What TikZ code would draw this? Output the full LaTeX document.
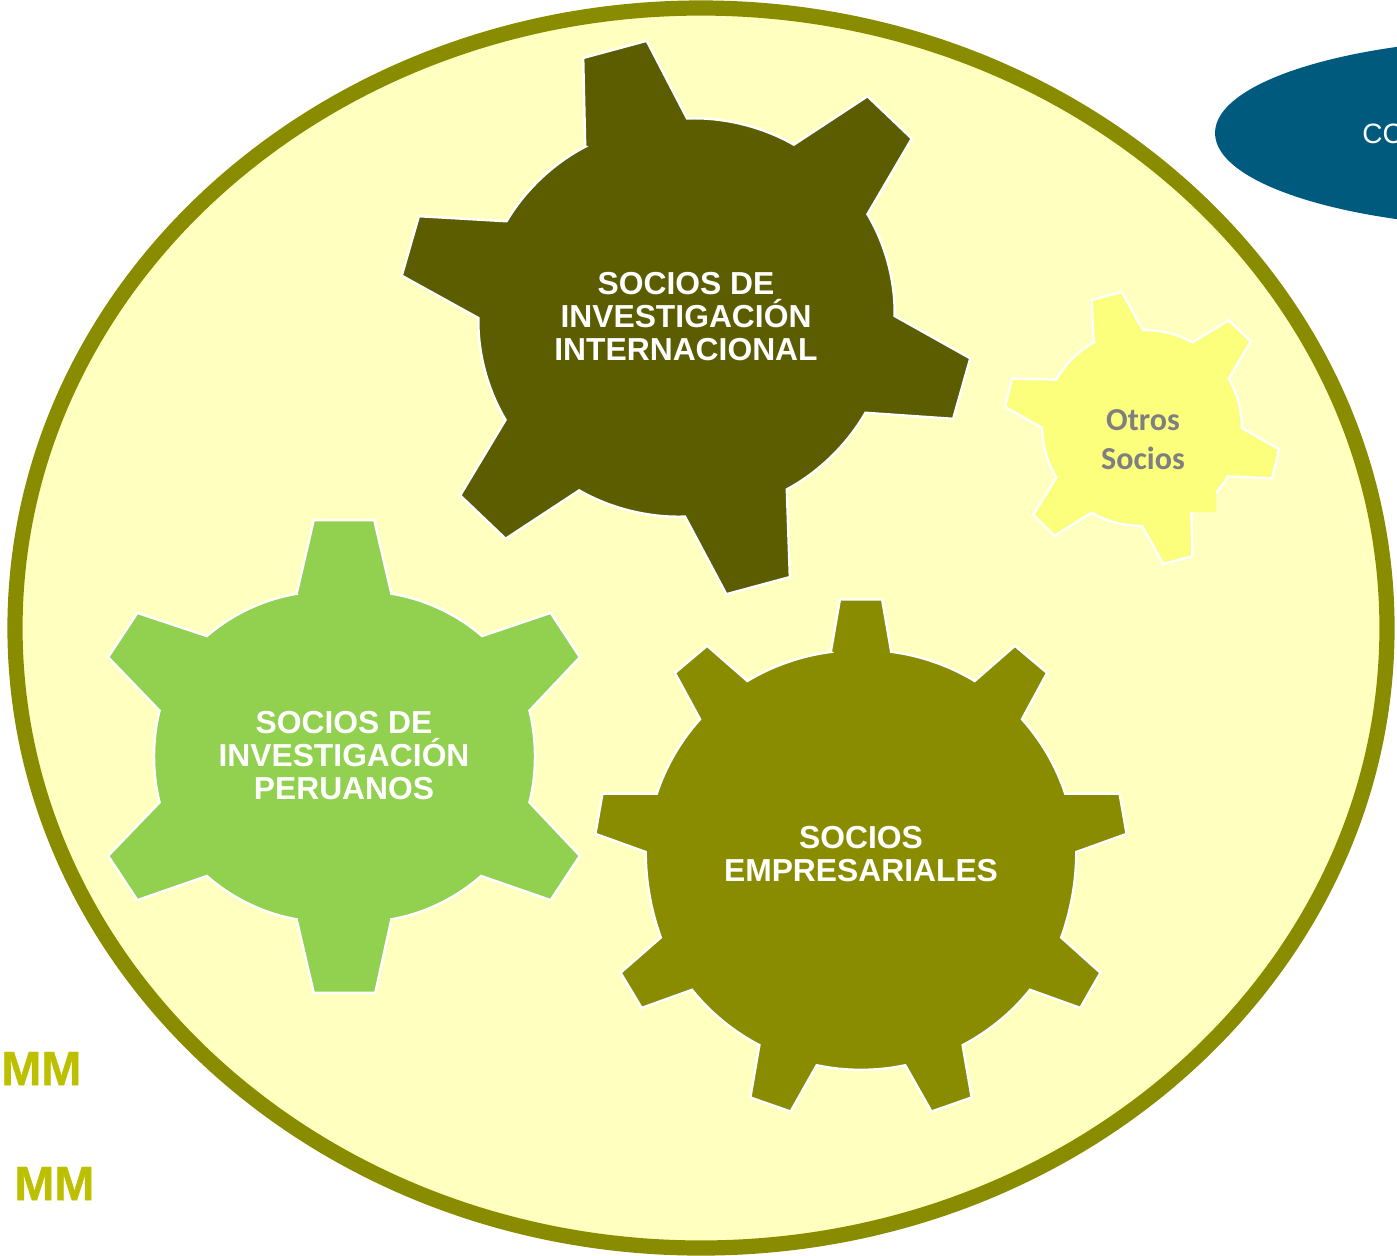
\documentclass[tikz,border=0pt]{standalone}
\usepackage{fontspec}
\setmainfont{Liberation Sans}
\newfontfamily\carlfont{Carlito}
\newfontfamily\mmfont[FakeBold=1]{Liberation Sans Bold}
\definecolor{ringcol}{HTML}{8A8C00}
\definecolor{bgcol}{HTML}{FFFFC0}
\definecolor{darkgear}{HTML}{5C5C00}
\definecolor{greengear}{HTML}{92D050}
\definecolor{yellowgear}{HTML}{FBFF7C}
\definecolor{bluecol}{HTML}{005A7D}
\definecolor{mmcol}{HTML}{BDC000}
\definecolor{othertxt}{HTML}{7F7F7F}
\tikzset{
  gear/.style={draw=white,line width=1.2pt,line join=miter,miter limit=4},
  arcb/.style={bend left=#1,looseness=0.85},
  geartext/.style={text=white,font=\fontsize{15.9pt}{16.5pt}\selectfont\bfseries,align=center,inner sep=0pt},
  othertext/.style={text=othertxt,font=\carlfont\fontsize{16pt}{19.5pt}\selectfont\bfseries,align=center,inner sep=0pt},
  mmtext/.style={text=mmcol,font=\mmfont\fontsize{24pt}{24pt}\selectfont,anchor=base west,inner sep=0pt},
}
\begin{document}
\begin{tikzpicture}[x=0.5pt,y=-0.5pt]
\useasboundingbox (0,0) rectangle (1397,1255);
\begin{scope}
\clip (0,0) rectangle (1397,1255);
% large circle
\draw[draw=ringcol,fill=bgcol,line width=7.6pt] (701,628) ellipse [x radius=686,y radius=620];
% blue ellipse
\fill[bluecol] (1530,133) ellipse [x radius=315,y radius=95];
\node[text=white,font=\fontsize{14pt}{14pt}\selectfont,anchor=base west,inner sep=0pt] (cc) at (1362,143) {CC};
\end{scope}
% dark gear
\path[gear,fill=darkgear,shift={(686,317)},scale=1.008,shift={(-686,-317)}] (586,148) -- (584,60) -- (647,43) -- (687,120)
  to[arcb=16] (793,146) -- (866,98) -- (910,140) -- (866,215)
  to[arcb=16] (893,316) -- (968,358) -- (951,418) -- (864,412)
  to[arcb=16] (786,488) -- (789,575) -- (726,592) -- (685,515)
  to[arcb=16] (580,489) -- (507,537) -- (462,494) -- (507,419)
  to[arcb=16] (480,318) -- (404,276) -- (421,217) -- (508,222)
  to[arcb=16] cycle;
% yellow gear
\path[gear,fill=yellowgear,shift={(1142,428)},scale=1.008,shift={(-1142,-428)}] (1094,343) -- (1092,301) -- (1122,293) -- (1143,331)
  to[arcb=16] (1192,343) -- (1228,321) -- (1250,342) -- (1228,379)
  to[arcb=16] (1241,428) -- (1278,449) -- (1271,478) -- (1227,476)
  to[arcb=16] (1191,512) -- (1192,555) -- (1163,563) -- (1142,525)
  to[arcb=16] (1092,512) -- (1055,535) -- (1034,514) -- (1057,477)
  to[arcb=16] (1043,428) -- (1006,407) -- (1013,379) -- (1057,380)
  to[arcb=16] cycle;
\fill[yellowgear] (1190,470) rectangle (1216,512);
% green gear
\path[gear,fill=greengear,shift={(344,757)},scale=1.008,shift={(-344,-757)}] (297,595) -- (314,522) -- (374,522) -- (391,595)
  to[arcb=16] (481,637) -- (549,614) -- (578,658) -- (528,711)
  to[arcb=14] (528,802) -- (578,855) -- (549,899) -- (480,875)
  to[arcb=16] (391,918) -- (375,991) -- (314,991) -- (297,918)
  to[arcb=16] (208,875) -- (139,899) -- (110,855) -- (161,802)
  to[arcb=14] (161,711) -- (110,658) -- (139,614) -- (208,637)
  to[arcb=16] cycle;
% olive gear
\path[gear,fill=ringcol,shift={(861,856)},scale=1.006,shift={(-861,-856)}] (831,653) -- (840,601) -- (882,601) -- (891,653)
  to[arcb=12] (974,682) -- (1014,647) -- (1046,674) -- (1021,720)
  to[arcb=12] (1064,794) -- (1118,794) -- (1125,834) -- (1075,852)
  to[arcb=10] (1060,937) -- (1099,972) -- (1079,1007) -- (1029,989)
  to[arcb=12] (962,1044) -- (971,1096) -- (931,1110) -- (905,1064)
  to[arcb=12] (817,1064) -- (791,1110) -- (751,1096) -- (760,1044)
  to[arcb=12] (693,989) -- (643,1007) -- (622,972) -- (662,937)
  to[arcb=10] (647,852) -- (597,834) -- (604,794) -- (658,794)
  to[arcb=12] (701,720) -- (676,674) -- (708,647) -- (748,682)
  to[arcb=12] cycle;
% texts
\node[geartext] (tinter) at (686,316.5) {SOCIOS DE\\INVESTIGACIÓN\\INTERNACIONAL};
\node[geartext] (tperu) at (344,756) {SOCIOS DE\\INVESTIGACIÓN\\PERUANOS};
\node[geartext] (temp) at (861,854) {SOCIOS\\EMPRESARIALES};
\node[othertext] (totros) at (1143,440) {Otros\\Socios};
\node[mmtext] (mma) at (1,1085) {MM};
\node[mmtext] (mmb) at (14,1200) {MM};
\end{tikzpicture}
\end{document}
